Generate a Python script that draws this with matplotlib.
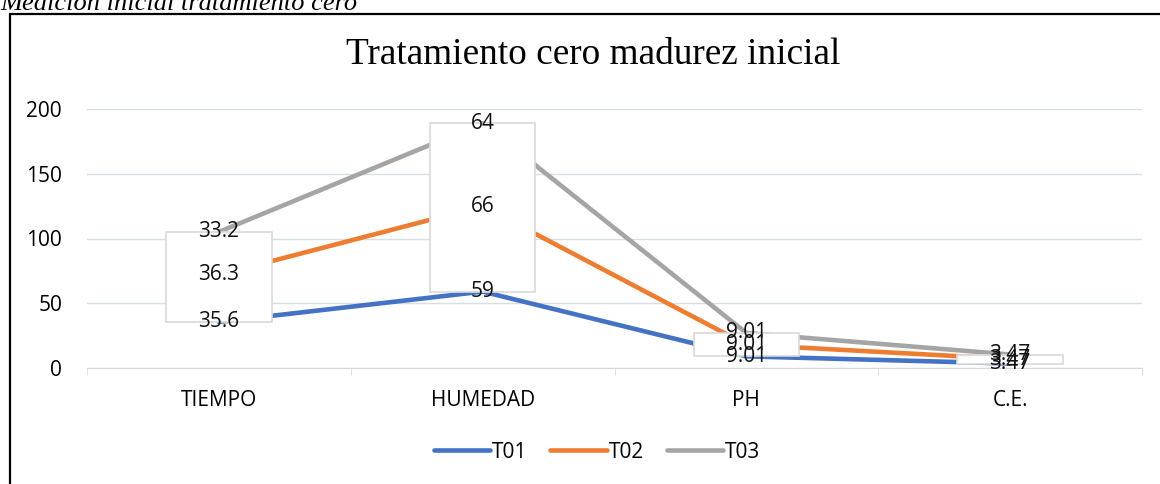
import numpy as np
import matplotlib.pyplot as plt
from matplotlib.patches import Rectangle

categories = ["TIEMPO", "HUMEDAD", "PH", "C.E."]
t01 = [35.6, 59, 9.01, 3.47]
t02 = [36.3, 66, 9.01, 3.47]
t03 = [33.2, 64, 9.01, 3.47]
series_names = ["T01", "T02", "T03"]
colors = ["#4472C4", "#ED7D31", "#A5A5A5"]

W, H = 1160, 484
fig = plt.figure(figsize=(W / 100, H / 100), dpi=100)

# outer frame and caption above it
fig.patches.append(Rectangle((10 / W, -0.1), 1.2, 1 - 14 / H + 0.1, transform=fig.transFigure,
                             fill=False, edgecolor="black", linewidth=1.6))
fig.text(0.0, 1 - 10 / H, "Medición inicial tratamiento cero", family="Liberation Serif",
         style="italic", fontsize=19, ha="left", va="baseline")
fig.text(593 / W, 1 - 55 / H, "Tratamiento cero madurez inicial", family="Liberation Serif",
         fontsize=26.8, ha="center", va="center")

ax = fig.add_axes([87 / W, 1 - 368 / H, (1142 - 87) / W, (368 - 109) / H])
x = np.arange(len(categories)) + 0.5

# stacked values
s1 = np.array(t01)
s2 = s1 + np.array(t02)
s3 = s2 + np.array(t03)
stacks = [s1, s2, s3]
raw = [t01, t02, t03]

for s, c, n in zip(stacks, colors, series_names):
    ax.plot(x, s, color=c, linewidth=3.3, label=n, zorder=2, solid_capstyle="round")

# up/down bars between first and last series
ax.bar(x, s3 - s1, bottom=s1, width=0.4, color="white", edgecolor="#D9D9D9", linewidth=1.2, zorder=3)

for s, r in zip(stacks, raw):
    for xi, yi, v in zip(x, s, r):
        ax.text(xi, yi, f"{v:g}", ha="center", va="center", fontsize=15, family="Open Sans",
                color="#111111", zorder=4)

ax.set_xlim(0, 4)
ax.set_ylim(0, 200)
ax.set_yticks([0, 50, 100, 150, 200])
ax.set_xticks(x)
ax.set_xticklabels(categories)
ax.set_xticks(np.arange(5), minor=True)
ax.tick_params(axis="x", which="major", length=0, pad=16, labelsize=15)
ax.tick_params(axis="x", which="minor", length=5, color="#D9D9D9", direction="out")
ax.tick_params(axis="y", length=0, pad=18, labelsize=15)
for lbl in ax.get_xticklabels() + ax.get_yticklabels():
    lbl.set_family("Open Sans")
ax.grid(axis="y", color="#D9DDE4", linewidth=1)
ax.set_axisbelow(True)
for sp in ["top", "right", "left"]:
    ax.spines[sp].set_visible(False)
ax.spines["bottom"].set_color("#D9D9D9")

fig.legend(loc="center", bbox_to_anchor=(597 / W, 1 - 452 / H), ncol=3, frameon=False,
           prop={"family": "Open Sans", "size": 15}, handlelength=2.7, handletextpad=0.1,
           columnspacing=1.1)

fig.savefig("out.png", dpi=100)
